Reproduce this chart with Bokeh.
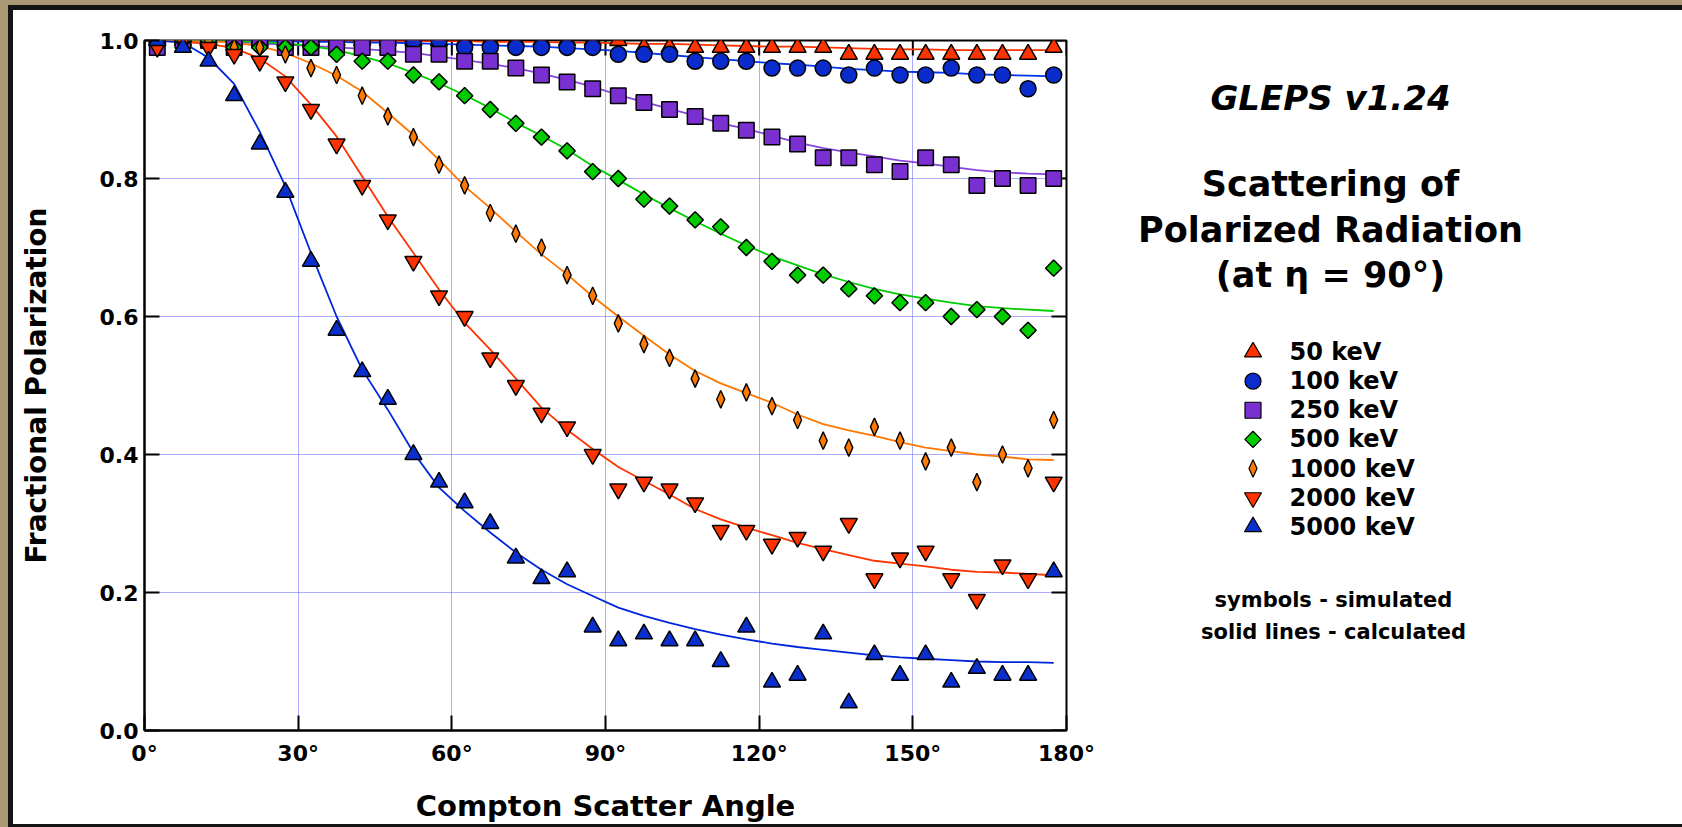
import numpy as np
from bokeh.plotting import figure
from bokeh.models import Range1d, FixedTicker, CustomJSTickFormatter
from bokeh.layouts import row
from bokeh.core.properties import value
from bokeh.embed import file_html
from bokeh.resources import INLINE

# ---------------- data ----------------
angles = [2.5, 7.5, 12.5, 17.5, 22.5, 27.5, 32.5, 37.5, 42.5, 47.5, 52.5, 57.5,
          62.5, 67.5, 72.5, 77.5, 82.5, 87.5, 92.5, 97.5, 102.5, 107.5, 112.5, 117.5,
          122.5, 127.5, 132.5, 137.5, 142.5, 147.5, 152.5, 157.5, 162.5, 167.5, 172.5, 177.5]

sim_50 = [1.00, 1.00, 1.00, 1.00, 1.00, 1.00, 1.00, 1.00, 1.00, 1.00, 1.00, 1.00,
          1.00, 1.00, 1.00, 1.00, 1.00, 1.00, 1.00, 0.99, 0.99, 0.99, 0.99, 0.99,
          0.99, 0.99, 0.99, 0.98, 0.98, 0.98, 0.98, 0.98, 0.98, 0.98, 0.98, 0.99]
calc_50 = [1.000, 1.000, 1.000, 1.000, 1.000, 1.000, 1.000, 1.000, 1.000, 1.000, 0.999, 0.999,
           0.999, 0.998, 0.998, 0.998, 0.997, 0.997, 0.996, 0.995, 0.995, 0.994, 0.993, 0.992,
           0.991, 0.991, 0.990, 0.989, 0.988, 0.987, 0.987, 0.986, 0.986, 0.986, 0.986, 0.986]

sim_100 = [1.00, 1.00, 1.00, 1.00, 1.00, 1.00, 1.00, 1.00, 1.00, 1.00, 1.00, 1.00,
           0.99, 0.99, 0.99, 0.99, 0.99, 0.99, 0.98, 0.98, 0.98, 0.97, 0.97, 0.97,
           0.96, 0.96, 0.96, 0.95, 0.96, 0.95, 0.95, 0.96, 0.95, 0.95, 0.93, 0.95]
calc_100 = [1.000, 1.000, 1.000, 1.000, 0.999, 0.999, 0.998, 0.998, 0.997, 0.997, 0.996, 0.995,
            0.994, 0.993, 0.992, 0.991, 0.989, 0.987, 0.985, 0.982, 0.979, 0.976, 0.973, 0.970,
            0.967, 0.965, 0.962, 0.959, 0.957, 0.955, 0.954, 0.953, 0.951, 0.950, 0.949, 0.948]

sim_250 = [0.99, 1.00, 1.00, 0.99, 1.00, 0.99, 0.99, 0.99, 0.99, 0.99, 0.98, 0.98,
           0.97, 0.97, 0.96, 0.95, 0.94, 0.93, 0.92, 0.91, 0.90, 0.89, 0.88, 0.87,
           0.86, 0.85, 0.83, 0.83, 0.82, 0.81, 0.83, 0.82, 0.79, 0.80, 0.79, 0.80]
calc_250 = [1.000, 1.000, 0.999, 0.998, 0.996, 0.994, 0.992, 0.990, 0.988, 0.985, 0.982, 0.977,
            0.972, 0.966, 0.960, 0.952, 0.943, 0.933, 0.921, 0.911, 0.901, 0.891, 0.880, 0.872,
            0.862, 0.852, 0.844, 0.838, 0.832, 0.826, 0.822, 0.817, 0.812, 0.809, 0.807, 0.806]

sim_500 = [1.00, 1.00, 1.00, 0.99, 0.99, 0.99, 0.99, 0.98, 0.97, 0.97, 0.95, 0.94,
           0.92, 0.90, 0.88, 0.86, 0.84, 0.81, 0.80, 0.77, 0.76, 0.74, 0.73, 0.70,
           0.68, 0.66, 0.66, 0.64, 0.63, 0.62, 0.62, 0.60, 0.61, 0.60, 0.58, 0.67]
calc_500 = [1.000, 1.000, 1.000, 0.999, 0.998, 0.996, 0.992, 0.986, 0.977, 0.967, 0.953, 0.938,
            0.921, 0.902, 0.881, 0.862, 0.842, 0.818, 0.798, 0.777, 0.757, 0.738, 0.720, 0.703,
            0.687, 0.674, 0.661, 0.650, 0.640, 0.632, 0.626, 0.620, 0.615, 0.612, 0.610, 0.608]

sim_1000 = [0.99, 1.00, 1.00, 0.99, 0.99, 0.98, 0.96, 0.95, 0.92, 0.89, 0.86, 0.82,
            0.79, 0.75, 0.72, 0.70, 0.66, 0.63, 0.59, 0.56, 0.54, 0.51, 0.48, 0.49,
            0.47, 0.45, 0.42, 0.41, 0.44, 0.42, 0.39, 0.41, 0.36, 0.40, 0.38, 0.45]
calc_1000 = [1.000, 1.000, 0.999, 0.997, 0.992, 0.982, 0.967, 0.949, 0.926, 0.895, 0.863, 0.827,
             0.789, 0.757, 0.723, 0.690, 0.661, 0.629, 0.600, 0.572, 0.545, 0.521, 0.503, 0.489,
             0.475, 0.458, 0.444, 0.435, 0.427, 0.418, 0.410, 0.405, 0.400, 0.397, 0.393, 0.392]

sim_2000 = [0.99, 1.00, 0.99, 0.98, 0.97, 0.94, 0.90, 0.85, 0.79, 0.74, 0.68, 0.63,
            0.60, 0.54, 0.50, 0.46, 0.44, 0.40, 0.35, 0.36, 0.35, 0.33, 0.29, 0.29,
            0.27, 0.28, 0.26, 0.30, 0.22, 0.25, 0.26, 0.22, 0.19, 0.24, 0.22, 0.36]
calc_2000 = [1.000, 0.998, 0.995, 0.989, 0.974, 0.948, 0.907, 0.861, 0.803, 0.745, 0.692, 0.639,
             0.591, 0.552, 0.510, 0.468, 0.436, 0.408, 0.382, 0.362, 0.342, 0.321, 0.306, 0.294,
             0.283, 0.272, 0.263, 0.254, 0.246, 0.242, 0.238, 0.233, 0.230, 0.229, 0.227, 0.225]

sim_5000 = [1.00, 0.99, 0.97, 0.92, 0.85, 0.78, 0.68, 0.58, 0.52, 0.48, 0.40, 0.36,
            0.33, 0.30, 0.25, 0.22, 0.23, 0.15, 0.13, 0.14, 0.13, 0.13, 0.10, 0.15,
            0.07, 0.08, 0.14, 0.04, 0.11, 0.08, 0.11, 0.07, 0.09, 0.08, 0.08, 0.23]
calc_5000 = [1.000, 0.997, 0.975, 0.937, 0.868, 0.789, 0.692, 0.600, 0.523, 0.465, 0.403, 0.352,
             0.318, 0.287, 0.258, 0.233, 0.212, 0.195, 0.178, 0.166, 0.156, 0.147, 0.139, 0.132,
             0.126, 0.121, 0.117, 0.113, 0.109, 0.106, 0.104, 0.102, 0.100, 0.099, 0.099, 0.098]

energy_labels = ["50 keV", "100 keV", "250 keV", "500 keV", "1000 keV", "2000 keV", "5000 keV"]

x_ticks = [0, 30, 60, 90, 120, 150, 180]
x_tick_labels = ["0°", "30°", "60°", "90°", "120°", "150°", "180°"]
y_ticks = [0.0, 0.2, 0.4, 0.6, 0.8, 1.0]
y_tick_labels = ["0.0", "0.2", "0.4", "0.6", "0.8", "1.0"]

title_lines = ["Scattering of", "Polarized Radiation", "(at η = 90°)"]
note_lines = ["symbols - simulated", "solid lines - calculated"]

# ---------------- style ----------------
FONT = "DejaVu Sans"
PARCH = "#ab9976"
INK = "#141414"

C50, L50 = "#ff3300", "#ff3300"
C100, L100 = "#0a2ccc", "#0033ee"
C250, L250 = "#7a2fd1", "#8844dd"
C500, L500 = "#00cc00", "#00cc00"
C1000, L1000 = "#ff7a00", "#ff7700"
C2000, L2000 = "#ff3300", "#ff3300"
C5000, L5000 = "#0b2fcc", "#0026dd"

# page layout (canvas pixels == page pixels)
FIG_H = 827
FR_L, FR_R, FR_T, FR_B = 144, 1066, 40, 730
P1_W = 1100
FRAME_W, FRAME_H = FR_R - FR_L, FR_B - FR_T
TICK_LEN = 15

p = figure(width=P1_W, height=FIG_H, x_range=Range1d(0, 180), y_range=Range1d(0, 1),
           output_backend="svg", toolbar_location=None, title=None,
           min_border_left=FR_L, min_border_right=P1_W - FR_R,
           min_border_top=FR_T, min_border_bottom=FIG_H - FR_B)
p.border_fill_color = None
p.background_fill_color = "white"
p.outline_line_color = "black"
p.outline_line_width = 2

xfmt = CustomJSTickFormatter(args=dict(t=x_ticks, l=x_tick_labels),
                             code="const i = t.indexOf(tick); return i >= 0 ? l[i] : '';")
yfmt = CustomJSTickFormatter(args=dict(t=y_ticks, l=y_tick_labels),
                             code="const i = t.indexOf(tick); return i >= 0 ? l[i] : '';")

bottom = p.below[0]
left = p.left[0]
bottom.ticker = FixedTicker(ticks=x_ticks)
left.ticker = FixedTicker(ticks=y_ticks)
bottom.formatter = xfmt
left.formatter = yfmt
for ax in (bottom, left):
    ax.axis_line_color = "black"
    ax.axis_line_width = 2
    ax.major_tick_in = TICK_LEN
    ax.major_tick_out = 0
    ax.major_tick_line_color = "black"
    ax.major_tick_line_width = 2
    ax.minor_tick_line_color = None
    ax.major_label_text_font = FONT
    ax.major_label_text_font_style = "bold"
    ax.major_label_text_color = "black"
    ax.major_label_text_font_size = "22px"
    ax.axis_label_text_font = FONT
    ax.axis_label_text_font_style = "bold"
    ax.axis_label_text_color = "black"
bottom.major_label_standoff = 10
left.major_label_standoff = 6
bottom.axis_label = "Compton Scatter Angle"
left.axis_label = "Fractional Polarization"
bottom.axis_label_text_font_size = "29px"
left.axis_label_text_font_size = "28px"
bottom.axis_label_standoff = 20
left.axis_label_standoff = 44

for g in (p.xgrid[0], p.ygrid[0]):
    g.grid_line_color = "#5a5aff"
    g.grid_line_dash = "1 1"
    g.grid_line_width = 1

# inward ticks on the top and right edges of the box
tick_dy = TICK_LEN / FRAME_H
tick_dx = TICK_LEN * 180.0 / FRAME_W
p.segment(x0=x_ticks, y0=[1.0] * len(x_ticks), x1=x_ticks, y1=[1.0 - tick_dy] * len(x_ticks),
          line_color="black", line_width=2)
p.segment(x0=[180] * len(y_ticks), y0=y_ticks, x1=[180 - tick_dx] * len(y_ticks), y1=y_ticks,
          line_color="black", line_width=2)

# calculated curves
for calc, col in ((calc_50, L50), (calc_100, L100), (calc_250, L250), (calc_500, L500),
                  (calc_1000, L1000), (calc_2000, L2000), (calc_5000, L5000)):
    p.line(angles, calc, line_color=col, line_width=1.8)

# simulated points
MK = dict(line_color="black", line_width=1.5)
p.scatter(angles, sim_50, marker="triangle", size=17, fill_color=C50, **MK)
p.scatter(angles, sim_100, marker="circle", size=16, fill_color=C100, **MK)
p.scatter(angles, sim_250, marker="square", size=15.5, fill_color=C250, **MK)
p.scatter(angles, sim_500, marker="square", angle=np.pi / 4, size=11.5, fill_color=C500, **MK)

# thin diamonds for 1000 keV (half sizes in screen pixels converted to data units)
HALF_W_PX, HALF_H_PX = 4.0, 8.8
dx = HALF_W_PX * 180.0 / FRAME_W
dy = HALF_H_PX * 1.0 / FRAME_H
xs = [[ai - dx, ai, ai + dx, ai] for ai in angles]
ys = [[vi, vi + dy, vi, vi - dy] for vi in sim_1000]
p.patches(xs, ys, fill_color=C1000, line_color="black", line_width=1.4)

p.scatter(angles, sim_2000, marker="inverted_triangle", size=17, fill_color=C2000, **MK)
p.scatter(angles, sim_5000, marker="triangle", size=17, fill_color=C5000, **MK)

# ---------------- right-hand panel (titles + legend), page-pixel coordinates ----------------
P2_X0, P2_X1 = P1_W, 1682
p2 = figure(width=P2_X1 - P2_X0, height=FIG_H, x_range=Range1d(P2_X0, P2_X1),
            y_range=Range1d(FR_B, FR_T), output_backend="svg", toolbar_location=None,
            title=None, x_axis_location=None, y_axis_location=None,
            min_border_left=0, min_border_right=0,
            min_border_top=FR_T, min_border_bottom=FIG_H - FR_B)
p2.grid.visible = False
p2.outline_line_color = None
p2.background_fill_color = None
p2.border_fill_color = None

TXT = dict(text_font=value(FONT), text_baseline="middle", text_color="black")
CX = 1330
p2.text(x=[CX], y=[97], text=["GLEPS v1.24"], text_align="center",
        text_font_style="bold italic", text_font_size="34px", **TXT)
p2.text(x=[CX] * 3, y=[183.5, 229.5, 274.5], text=title_lines, text_align="center",
        text_font_style="bold", text_font_size="35px", **TXT)

# legend
LX, TX = 1252.5, 1289
rows_y = [351.5 + 29.13 * i for i in range(len(energy_labels))]
p2.text(x=[TX] * len(energy_labels), y=rows_y, text=energy_labels, text_align="left",
        text_font_style="bold", text_font_size="24px", **TXT)
LM = dict(line_color="black", line_width=1.2)
p2.scatter([LX], [rows_y[0]], marker="triangle", size=17, fill_color=C50, **LM)
p2.scatter([LX], [rows_y[1]], marker="circle", size=16, fill_color=C100, **LM)
p2.scatter([LX], [rows_y[2]], marker="square", size=16, fill_color=C250, **LM)
p2.scatter([LX], [rows_y[3]], marker="square", angle=np.pi / 4, size=11.5, fill_color=C500, **LM)
p2.patches([[LX - HALF_W_PX, LX, LX + HALF_W_PX, LX]],
           [[rows_y[4], rows_y[4] - HALF_H_PX, rows_y[4], rows_y[4] + HALF_H_PX]],
           fill_color=C1000, line_color="black", line_width=1.2)
p2.scatter([LX], [rows_y[5]], marker="inverted_triangle", size=17, fill_color=C2000, **LM)
p2.scatter([LX], [rows_y[6]], marker="triangle", size=17, fill_color=C5000, **LM)

p2.text(x=[1333] * 2, y=[599, 631], text=note_lines, text_align="center",
        text_font_style="bold", text_font_size="21px", **TXT)

layout = row(p, p2, spacing=0)
layout.styles = {
    "background-color": "white",
    "box-shadow": ", ".join([
        f"inset 8px 5px 0 0 {PARCH}",
        f"inset 13px 10px 0 0 {INK}",
        f"inset 0 -3px 0 0 {INK}",
    ]),
}

open("out.html", "w").write(file_html(layout, INLINE))
